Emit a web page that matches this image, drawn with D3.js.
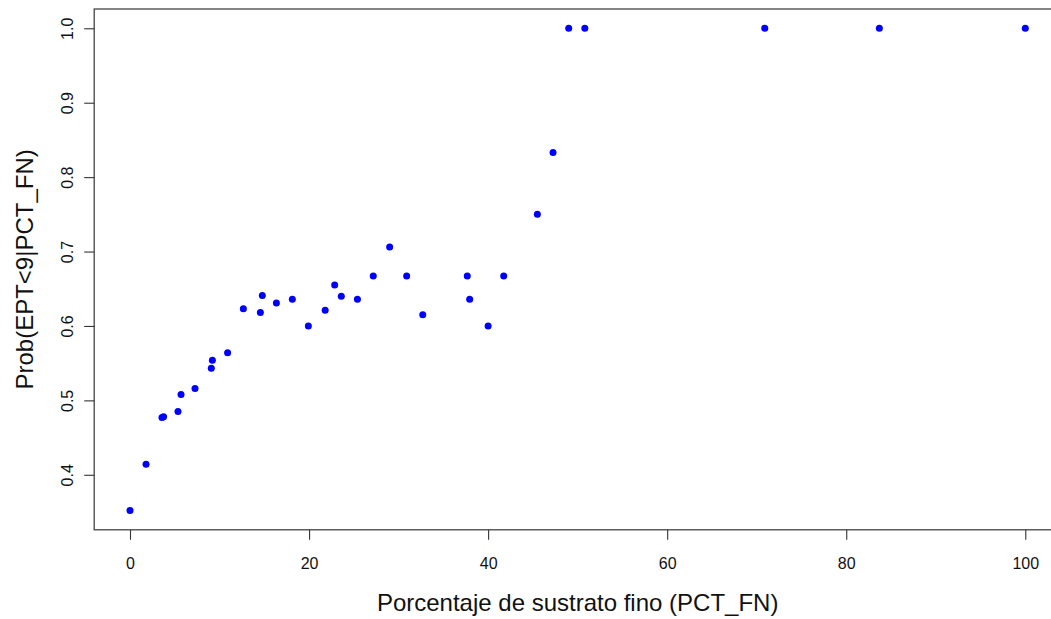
<!DOCTYPE html>
<html>
<head>
<meta charset="utf-8">
<script src="https://cdn.jsdelivr.net/npm/d3@7"></script>
<style>
  html, body { margin: 0; padding: 0; background: #fff; }
  svg { display: block; font-family: "Liberation Sans", Arial, sans-serif; }
</style>
</head>
<body>
<svg id="chart" width="1051" height="619"></svg>
<script>
// Data
const pctFN = [0, 1.79, 3.57, 3.75, 5.36, 5.7, 7.26, 9.08, 9.2, 10.9, 12.66, 14.56, 14.78, 16.35, 18.13,
  19.92, 21.8, 22.86, 23.6, 25.4, 27.17, 29.0, 30.9, 32.7, 37.67, 37.94, 40.0, 41.74, 45.5, 47.25,
  49.0, 50.8, 70.9, 83.7, 100];
const prob = [0.352, 0.414, 0.477, 0.478, 0.485, 0.508, 0.516, 0.543, 0.554, 0.564, 0.623, 0.618, 0.641, 0.631, 0.636,
  0.600, 0.621, 0.655, 0.640, 0.636, 0.667, 0.706, 0.667, 0.615, 0.667, 0.636, 0.600, 0.667, 0.750, 0.833,
  1.0, 1.0, 1.0, 1.0, 1.0];
const xTicks = [0, 20, 40, 60, 80, 100];
const yTicks = [0.4, 0.5, 0.6, 0.7, 0.8, 0.9, 1.0];
const xTitle = "Porcentaje de sustrato fino (PCT_FN)";
const yTitle = "Prob(EPT<9|PCT_FN)";

const svg = d3.select("#chart");

// R-style 4% padding of the data range
const xMin = d3.min(pctFN), xMax = d3.max(pctFN);
const yMin = d3.min(prob), yMax = d3.max(prob);
const xPad = (xMax - xMin) * 0.04, yPad = (yMax - yMin) * 0.04;

const x = d3.scaleLinear().domain([xMin - xPad, xMax + xPad]).range([94.2, 1061.1]);
const y = d3.scaleLinear().domain([yMin - yPad, yMax + yPad]).range([529.8, 9.0]);

// box
svg.append("rect")
  .attr("x", x.range()[0]).attr("y", y.range()[1])
  .attr("width", x.range()[1] - x.range()[0])
  .attr("height", y.range()[0] - y.range()[1])
  .attr("fill", "none").attr("stroke", "#444").attr("stroke-width", 1.3);

// x axis
const xAxis = d3.axisBottom(x).tickValues(xTicks).tickSize(10).tickPadding(18).tickFormat(d3.format("d"));
const gx = svg.append("g").attr("transform", `translate(0,${y.range()[0]})`).call(xAxis);
gx.select(".domain").remove();
gx.selectAll("line").attr("stroke", "#333").attr("stroke-width", 1.1);
gx.selectAll("text").attr("font-size", 16).attr("fill", "#111")
  .attr("font-family", "Liberation Sans, Arial, sans-serif");

// y axis
const yAxis = d3.axisLeft(y).tickValues(yTicks).tickSize(10).tickFormat(d3.format(".1f"));
const gy = svg.append("g").attr("transform", `translate(${x.range()[0]},0)`).call(yAxis);
gy.select(".domain").remove();
gy.selectAll("line").attr("stroke", "#333").attr("stroke-width", 1.1);
gy.selectAll("text").attr("font-size", 16).attr("fill", "#111")
  .attr("font-family", "Liberation Sans, Arial, sans-serif")
  .attr("x", null).attr("dy", null)
  .attr("text-anchor", "middle")
  .attr("transform", "translate(-21,0) rotate(-90)");

// points
svg.append("g").selectAll("circle")
  .data(pctFN.map((v, i) => [v, prob[i]]))
  .join("circle")
  .attr("cx", d => x(d[0]))
  .attr("cy", d => y(d[1]))
  .attr("r", 3.5)
  .attr("fill", "#0000ff");

// titles
svg.append("text")
  .attr("x", (94.2 + 1061.1) / 2).attr("y", 611)
  .attr("text-anchor", "middle").attr("font-size", 24).attr("fill", "#111")
  .text(xTitle);

svg.append("text")
  .attr("transform", `translate(33,${(9.0 + 529.8) / 2}) rotate(-90)`)
  .attr("text-anchor", "middle").attr("font-size", 24).attr("fill", "#111")
  .text(yTitle);
</script>
</body>
</html>
